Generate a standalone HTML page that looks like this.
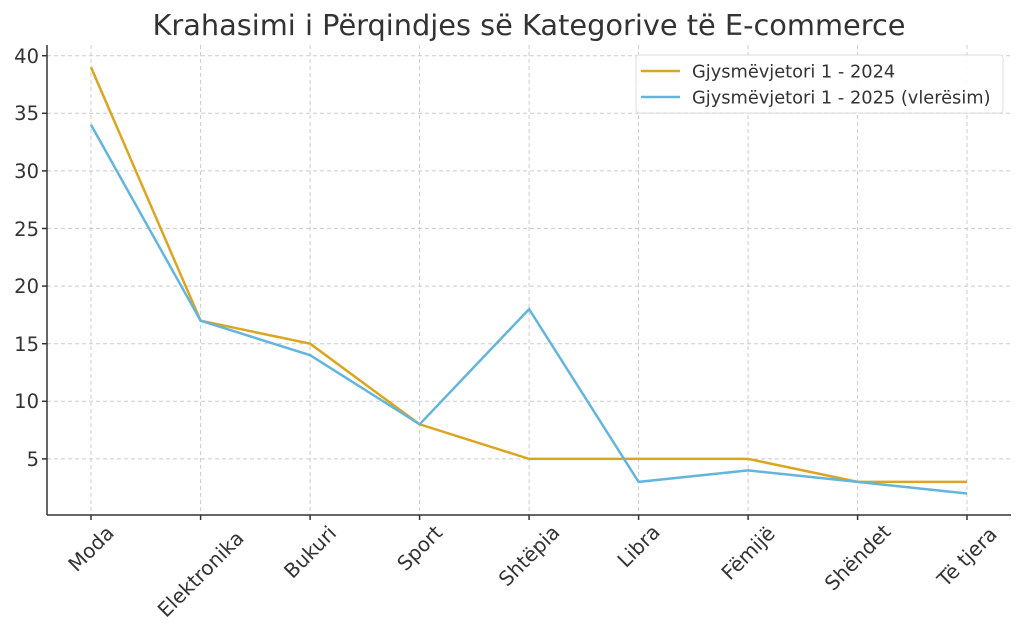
<!DOCTYPE html>
<html><head><meta charset="utf-8"><style>body{margin:0;background:#fff}svg{display:block}</style></head><body>
<svg width="1024" height="634" xmlns="http://www.w3.org/2000/svg" font-family="'DejaVu Sans','Liberation Sans',sans-serif">
<rect width="1024" height="634" fill="#fff"/>
<text x="529" y="35" font-size="28.8" text-anchor="middle" fill="#333">Krahasimi i Përqindjes së Kategorive të E-commerce</text>
<g stroke="#ccc" stroke-width="1" stroke-dasharray="4,3">
<line x1="47" x2="1011" y1="458.9" y2="458.9"/><line x1="47" x2="1011" y1="401.3" y2="401.3"/>
<line x1="47" x2="1011" y1="343.7" y2="343.7"/><line x1="47" x2="1011" y1="286.1" y2="286.1"/>
<line x1="47" x2="1011" y1="228.5" y2="228.5"/><line x1="47" x2="1011" y1="170.9" y2="170.9"/>
<line x1="47" x2="1011" y1="113.3" y2="113.3"/><line x1="47" x2="1011" y1="55.7" y2="55.7"/>
<line x1="91" x2="91" y1="45" y2="515"/><line x1="200.6" x2="200.6" y1="45" y2="515"/>
<line x1="310.1" x2="310.1" y1="45" y2="515"/><line x1="419.6" x2="419.6" y1="45" y2="515"/>
<line x1="529.1" x2="529.1" y1="45" y2="515"/><line x1="638.6" x2="638.6" y1="45" y2="515"/>
<line x1="748.1" x2="748.1" y1="45" y2="515"/><line x1="857.6" x2="857.6" y1="45" y2="515"/>
<line x1="967" x2="967" y1="45" y2="515"/>
</g>
<g stroke="#333" stroke-width="1.5">
<line x1="47" y1="45" x2="47" y2="515"/><line x1="47" y1="515" x2="1011" y2="515"/>
<line x1="42" x2="47" y1="458.9" y2="458.9"/><line x1="42" x2="47" y1="401.3" y2="401.3"/>
<line x1="42" x2="47" y1="343.7" y2="343.7"/><line x1="42" x2="47" y1="286.1" y2="286.1"/>
<line x1="42" x2="47" y1="228.5" y2="228.5"/><line x1="42" x2="47" y1="170.9" y2="170.9"/>
<line x1="42" x2="47" y1="113.3" y2="113.3"/><line x1="42" x2="47" y1="55.7" y2="55.7"/>
<line x1="91" x2="91" y1="515" y2="520"/><line x1="200.6" x2="200.6" y1="515" y2="520"/>
<line x1="310.1" x2="310.1" y1="515" y2="520"/><line x1="419.6" x2="419.6" y1="515" y2="520"/>
<line x1="529.1" x2="529.1" y1="515" y2="520"/><line x1="638.6" x2="638.6" y1="515" y2="520"/>
<line x1="748.1" x2="748.1" y1="515" y2="520"/><line x1="857.6" x2="857.6" y1="515" y2="520"/>
<line x1="967" x2="967" y1="515" y2="520"/>
</g>
<g font-size="19.5" fill="#333" text-anchor="end">
<text x="39" y="466">5</text><text x="39" y="408">10</text><text x="39" y="351">15</text>
<text x="39" y="293">20</text><text x="39" y="236">25</text><text x="39" y="178">30</text>
<text x="39" y="120">35</text><text x="39" y="63">40</text>
</g>
<g font-size="20" fill="#333" text-anchor="middle">
<text transform="translate(91,548.5) rotate(-45)" y="7">Moda</text>
<text transform="translate(200.6,574) rotate(-45)" y="7">Elektronika</text>
<text transform="translate(310.1,552) rotate(-45)" y="7">Bukuri</text>
<text transform="translate(419.6,548) rotate(-45)" y="7">Sport</text>
<text transform="translate(529.1,555.6) rotate(-45)" y="7">Shtëpia</text>
<text transform="translate(638.6,546) rotate(-45)" y="7">Libra</text>
<text transform="translate(748.1,553) rotate(-45)" y="7">Fëmijë</text>
<text transform="translate(857.6,557.4) rotate(-45)" y="7">Shëndet</text>
<text transform="translate(967,556.7) rotate(-45)" y="7">Të tjera</text>
</g>
<polyline fill="none" stroke="#DAA520" stroke-width="2.5" points="91,67.2 200.6,320.7 310.1,343.7 419.6,424.3 529.1,458.9 638.6,458.9 748.1,458.9 857.6,481.9 967,481.9"/>
<polyline fill="none" stroke="#64B5DC" stroke-width="2.5" points="91,124.8 200.6,320.7 310.1,355.2 419.6,424.3 529.1,309.1 638.6,481.9 748.1,470.4 857.6,481.9 967,493.5"/>
<rect x="636" y="55" width="367" height="58" rx="3" fill="#fff" fill-opacity="0.9" stroke="#ddd"/>
<line x1="641" x2="680" y1="71" y2="71" stroke="#DAA520" stroke-width="2.5"/>
<line x1="641" x2="680" y1="97" y2="97" stroke="#64B5DC" stroke-width="2.5"/>
<g font-size="17.8" fill="#333">
<text x="692" y="77.5">Gjysmëvjetori 1 - 2024</text>
<text x="692" y="103.5">Gjysmëvjetori 1 - 2025 (vlerësim)</text>
</g>
</svg>
</body></html>
